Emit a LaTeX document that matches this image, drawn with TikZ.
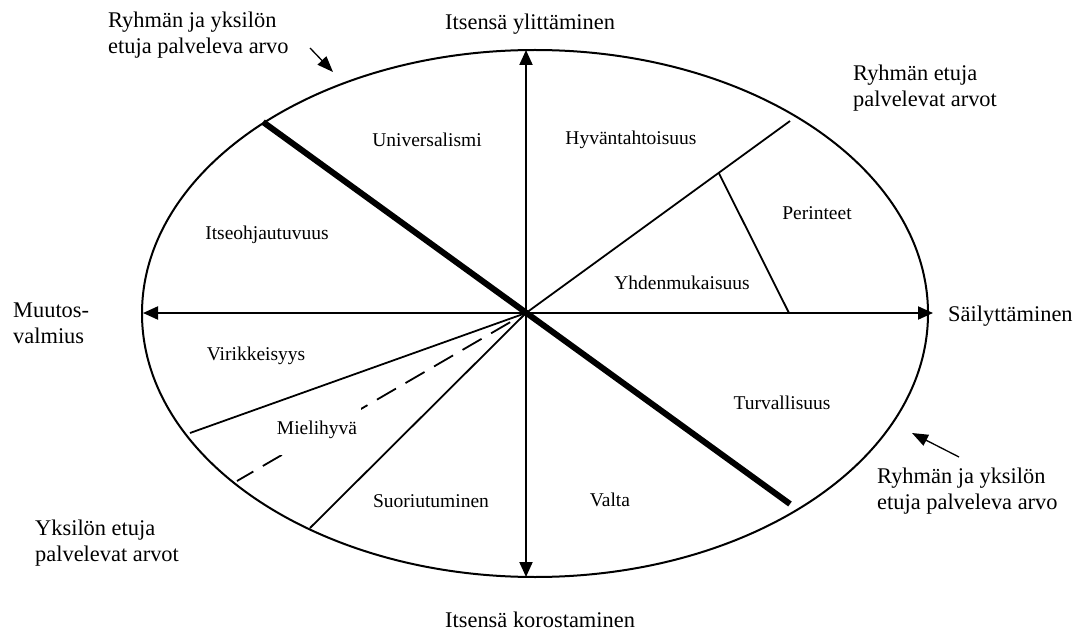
\documentclass[tikz,border=0pt]{standalone}
\usepackage{fontspec}
\setmainfont{Liberation Serif}
\usetikzlibrary{arrows.meta,calc}
\begin{document}
\begin{tikzpicture}[x=1pt,y=-1pt,
  axis/.style={line width=2pt,{Triangle[length=15pt,width=13pt]}-{Triangle[length=15pt,width=13pt]}},
  rim/.style={line width=2pt},
  thickdiv/.style={line width=6pt},
  div/.style={line width=1.8pt},
  dashdiv/.style={line width=1.8pt,dash pattern=on 22pt off 11pt},
  notearrow/.style={line width=1.3pt,-{Triangle[length=16pt,width=12pt]}},
  outer/.style={font=\fontsize{22.4pt}{26pt}\selectfont,inner sep=0pt,anchor=base west},
  sector/.style={font=\fontsize{19.5pt}{23pt}\selectfont,inner sep=0pt}]
\useasboundingbox (0,0) rectangle (1082,631);
% ellipse
\draw[rim] (535,313.5) ellipse [x radius=393pt, y radius=263.5pt];
% axes
\coordinate (O) at (526,313);
\coordinate (L) at (143,313);
\coordinate (R) at (933,313);
\coordinate (T) at (526,50);
\coordinate (B) at (526,577);
\draw[axis] (L) -- (R);
\draw[axis] (T) -- (B);
% dividers
\coordinate (tk1) at (263,122);
\coordinate (tk2) at (790,504);
\draw[thickdiv] (tk1) -- (tk2);
\coordinate (hr) at (790,121);
\draw[div] (O) -- (hr);
\coordinate (pa) at ($(O)!0.73!(hr)$);
\coordinate (pb) at (789,313);
\draw[div] (pa) -- (pb);
\coordinate (vk) at (190,433);
\draw[div] (O) -- (vk);
\coordinate (mh) at (237,481);
\coordinate (mh1) at ($(O)!0.055!(mh)$);
\draw[dashdiv] (mh1) -- (mh);
\coordinate (su) at (310,528);
\draw[div] (O) -- (su);
% sector labels
\node[sector] (univ) at (427,140) {Universalismi};
\node[sector] (hyva) at (631,140) {Hyväntahtoisuus};
\node[sector] (peri) at (817,213) {Perinteet};
\node[sector] (yhde) at (682,283) {Yhdenmukaisuus};
\node[sector] (itse) at (267,235) {Itseohjautuvuus};
\node[sector] (viri) at (256,356) {Virikkeisyys};
\node[sector,fill=white,minimum height=50pt,inner xsep=4pt] (mieli) at (317,430) {Mielihyvä};
\node[sector] (suor) at (431,501) {Suoriutuminen};
\node[sector] (valta) at (610,500) {Valta};
\node[sector] (turva) at (782,403) {Turvallisuus};
% outer labels
\node[outer] (ylit) at (445,30) {Itsensä ylittäminen};
\node[outer] (koros) at (445,627) {Itsensä korostaminen};
\node[outer] (sail) at (948,321) {Säilyttäminen};
\node[outer] (muut) at (13,317) {\begin{tabular}[t]{@{}l@{}}Muutos-\\valmius\end{tabular}};
\node[outer] (rjy1) at (108,28) {\begin{tabular}[t]{@{}l@{}}Ryhmän ja yksilön\\etuja palveleva arvo\end{tabular}};
\node[outer] (ryet) at (853,81) {\begin{tabular}[t]{@{}l@{}}Ryhmän etuja\\palvelevat arvot\end{tabular}};
\node[outer] (rjy2) at (877,483) {\begin{tabular}[t]{@{}l@{}}Ryhmän ja yksilön\\etuja palveleva arvo\end{tabular}};
\node[outer] (yks) at (35,535) {\begin{tabular}[t]{@{}l@{}}Yksilön etuja\\palvelevat arvot\end{tabular}};
% pointer arrows
\coordinate (a1s) at (310,48);
\coordinate (a1e) at (333,72);
\draw[notearrow] (a1s) -- (a1e);
\coordinate (a2s) at (959,457);
\coordinate (a2e) at (912,433);
\draw[notearrow] (a2s) -- (a2e);
\end{tikzpicture}
\end{document}
